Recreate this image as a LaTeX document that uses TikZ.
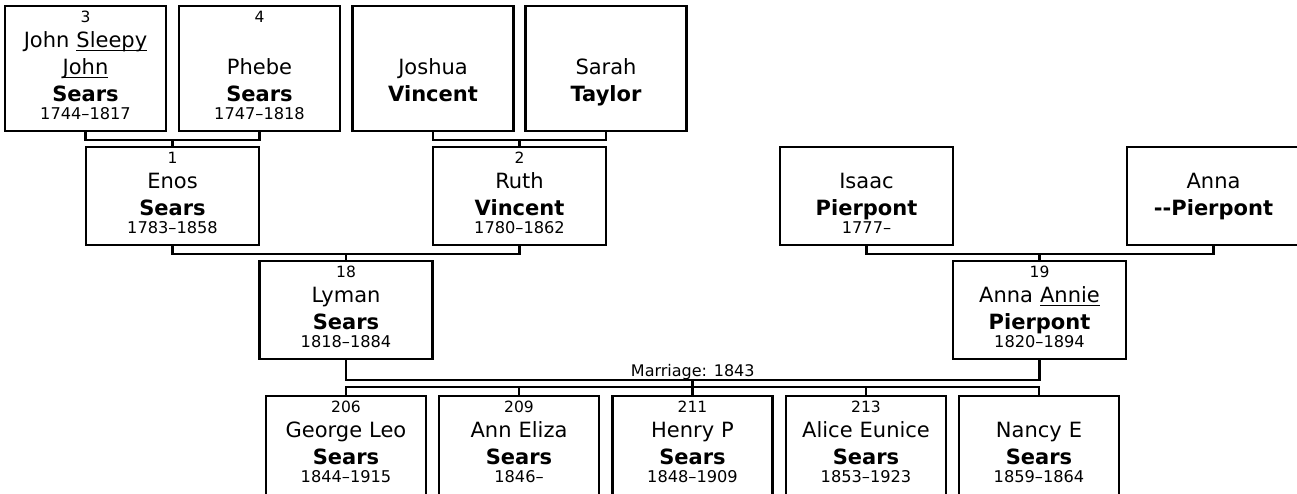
\documentclass[tikz,border=0pt]{standalone}
\usepackage{fontspec}
\setmainfont{DejaVu Sans}
\newcommand\boxfont{\fontsize{21}{0}\selectfont\lineskip=0pt}
\newcommand\pnum[1]{{\fontsize{15.5}{0}\selectfont\rule[-5pt]{0pt}{18pt}#1}}
\newcommand\pname[1]{\rule[-7pt]{0pt}{27pt}#1}
\newcommand\psur[1]{\rule[-5pt]{0pt}{24.5pt}\textbf{#1}}
\newcommand\pdate[1]{{\fontsize{16.2}{0}\selectfont\rule[-4pt]{0pt}{17.8pt}#1}}
\newcommand\nick[1]{\setbox0\hbox{#1}\rlap{\rule[-3.3pt]{\wd0}{1.3pt}}\box0}

\begin{document}
\begin{tikzpicture}[x=1pt, y=-1pt, line width=2.2pt,
  box/.style={draw, inner sep=0pt, anchor=north, align=center, text height=16.5pt, font=\boxfont},
  top/.style={box, text width=161pt, text depth=108pt},
  mid/.style={box, text width=173pt, text depth=81pt},
  kid/.style={box, text width=160pt, text depth=110pt}]
  \useasboundingbox (0,0) rectangle (1297,493);
  \clip (0,0) rectangle (1297,493);

  \node[top] (john) at (85.5,5) {\pnum{3}\\\pname{John \nick{Sleepy}}\\\pname{\nick{John}}\\\psur{Sears}\\\pdate{1744–1817}};
  \node[top] (phebe) at (259.5,5) {\pnum{4}\\\pname{}\\\pname{Phebe}\\\psur{Sears}\\\pdate{1747–1818}};
  \node[top] (joshua) at (433,5) {\pnum{}\\\pname{}\\\pname{Joshua}\\\psur{Vincent}};
  \node[top] (sarah) at (606,5) {\pnum{}\\\pname{}\\\pname{Sarah}\\\psur{Taylor}};

  \node[mid] (enos) at (172.5,146) {\pnum{1}\\\pname{Enos}\\\psur{Sears}\\\pdate{1783–1858}};
  \node[mid] (ruth) at (519.5,146) {\pnum{2}\\\pname{Ruth}\\\psur{Vincent}\\\pdate{1780–1862}};
  \node[mid] (isaac) at (866.5,146) {\pnum{}\\\pname{Isaac}\\\psur{Pierpont}\\\pdate{1777–}};
  \node[mid] (anna) at (1213.5,146) {\pnum{}\\\pname{Anna}\\\psur{-{}-Pierpont}};

  \node[mid] (lyman) at (346,260) {\pnum{18}\\\pname{Lyman}\\\psur{Sears}\\\pdate{1818–1884}};
  \node[mid] (annie) at (1039.5,260) {\pnum{19}\\\pname{Anna \nick{Annie}}\\\psur{Pierpont}\\\pdate{1820–1894}};

  \node[kid] (george) at (346,395) {\pnum{206}\\\pname{George Leo}\\\psur{Sears}\\\pdate{1844–1915}};
  \node[kid] (anneliza) at (519,395) {\pnum{209}\\\pname{Ann Eliza}\\\psur{Sears}\\\pdate{1846–}};
  \node[kid] (henry) at (692.5,395) {\pnum{211}\\\pname{Henry P}\\\psur{Sears}\\\pdate{1848–1909}};
  \node[kid] (alice) at (866,395) {\pnum{213}\\\pname{Alice Eunice}\\\psur{Sears}\\\pdate{1853–1923}};
  \node[kid] (nancy) at (1039,395) {\pnum{}\\\pname{Nancy E}\\\psur{Sears}\\\pdate{1859–1864}};

  \draw (john.south) -- ++(0,8) coordinate (g1) -| (phebe.south);
  \draw (enos.north) -- (enos.north |- g1);
  \draw (joshua.south) -- ++(0,8) coordinate (g2) -| (sarah.south);
  \draw (ruth.north) -- (ruth.north |- g2);
  \draw (enos.south) -- ++(0,8.5) coordinate (p1) -| (ruth.south);
  \draw (lyman.north) -- (lyman.north |- p1);
  \draw (isaac.south) -- ++(0,8.5) coordinate (p2) -| (anna.south);
  \draw (annie.north) -- (annie.north |- p2);
  \draw (lyman.south) -- ++(0,20.5) coordinate (mar) -| node[pos=.25, anchor=base, yshift=4pt, font=\fontsize{16}{19}\selectfont] (wed) {Marriage: 1843} (annie.south);
  \draw (george.north) -- ++(0,-8) coordinate (bus) -| (nancy.north);
  \foreach \k in {anneliza,henry,alice} \draw (\k.north) -- (\k.north |- bus);
  \draw (henry.north |- mar) -- (henry.north |- bus);
\end{tikzpicture}
\end{document}
